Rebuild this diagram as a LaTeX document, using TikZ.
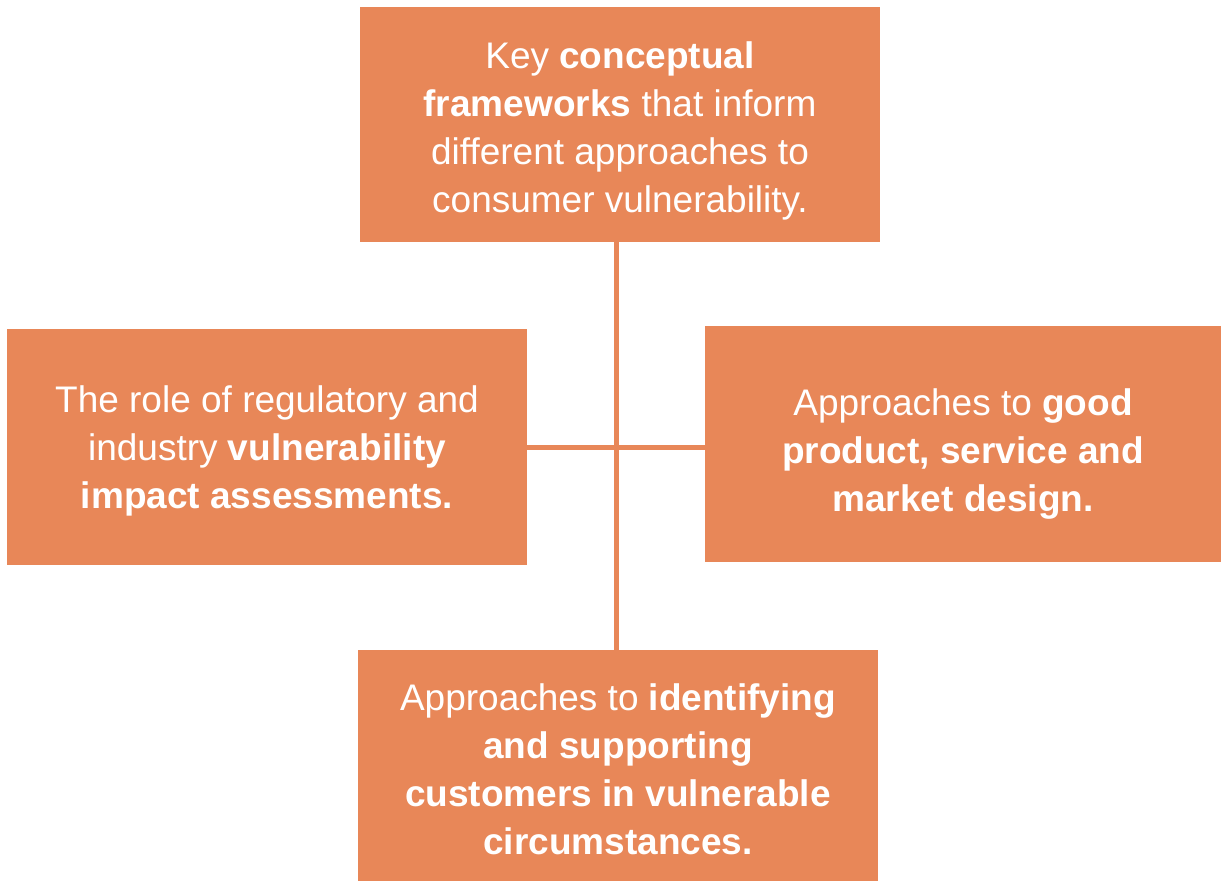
\documentclass[tikz,border=0pt]{standalone}
\usepackage{fontspec}
\setmainfont{Liberation Sans}
\definecolor{boxorange}{RGB}{232,135,88}
% lines of a box, set lower by #1 without changing its size
\newcommand{\lowered}[2]{\raisebox{-#1}[\height][\depth]{\begin{tabular}{@{}c@{}}#2\end{tabular}}}
\tikzset{
  topic/.style={fill=boxorange,text=white,inner sep=0pt,
    font=\fontsize{37}{48}\selectfont},
  link/.style={draw=boxorange,line width=5pt}
}
\begin{document}
\begin{tikzpicture}[x=1pt,y=-1pt]
  \useasboundingbox (0,0) rectangle (1221,881);
  \node[topic,minimum width=520pt,minimum height=235pt] (frame) at (620,124.5)
    {\lowered{6pt}{Key \textbf{conceptual}\\ \textbf{frameworks} that inform\\ different approaches to\\ consumer vulnerability.}};
  \node[topic,minimum width=520pt,minimum height=236pt] (impact) at (267,447)
    {\lowered{4pt}{The role of regulatory and\\ industry \textbf{vulnerability}\\ \textbf{impact assessments.}}};
  \node[topic,minimum width=516pt,minimum height=236pt] (design) at (963,444)
    {\lowered{10pt}{Approaches to \textbf{good}\\ \textbf{product, service and}\\ \textbf{market design.}}};
  \node[topic,minimum width=520pt,minimum height=231pt] (support) at (618,765.5)
    {\lowered{7pt}{Approaches to \textbf{identifying}\\ \textbf{and supporting}\\ \textbf{customers in vulnerable}\\ \textbf{circumstances.}}};
  % cross between the four boxes
  \coordinate (hub) at (616,447);
  \draw[link] (hub |- frame.south) -- (hub |- support.north);
  \draw[link] (impact.east |- hub) -- (design.west |- hub);
\end{tikzpicture}
\end{document}
